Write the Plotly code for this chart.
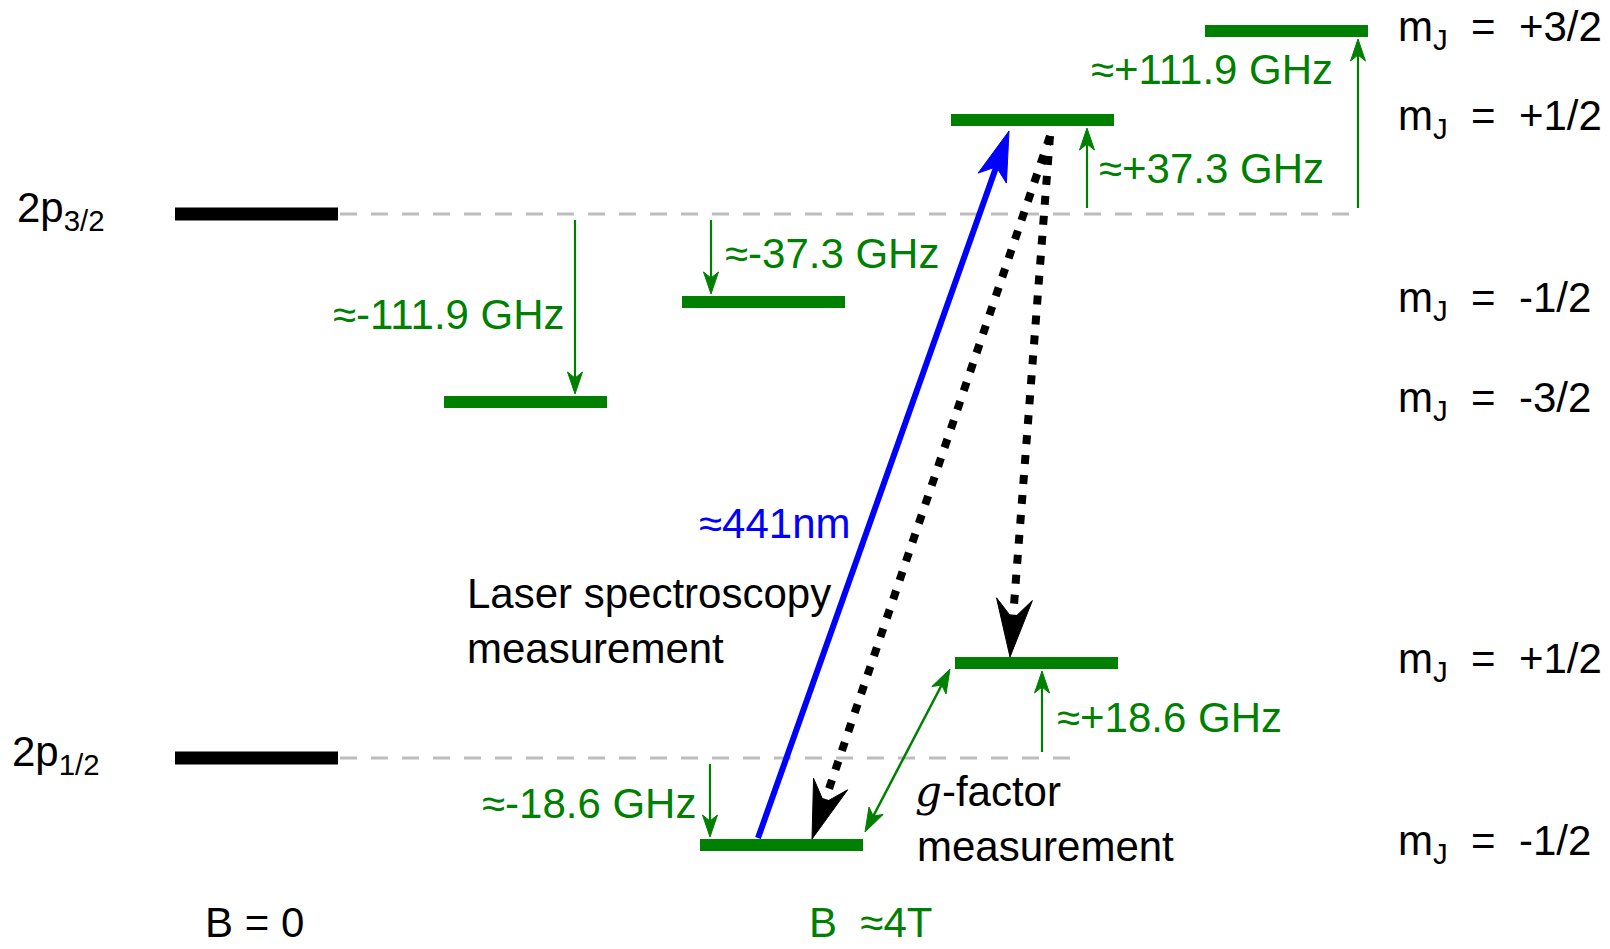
import numpy as np
import plotly.graph_objects as go

# ---------------------------------------------------------------------------
# Level scheme of the 2p fine-structure doublet and its Zeeman splitting.
# Vertical positions are schematic (diagram units, top = 0), not to scale.
# ---------------------------------------------------------------------------
fine_names = ["2p<sub>3/2</sub>", "2p<sub>1/2</sub>"]
fine_energy = [214, 758]

zeeman_parent = [0, 0, 0, 0, 1, 1]
zeeman_mj = ["+3/2", "+1/2", "-1/2", "-3/2", "+1/2", "-1/2"]
zeeman_shift = ["≈+111.9 GHz", "≈+37.3 GHz", "≈-37.3 GHz",
                "≈-111.9 GHz", "≈+18.6 GHz", "≈-18.6 GHz"]
zeeman_energy = [31, 120, 302, 402, 663, 845]

field_labels = ["B = 0", "B  ≈4T"]
laser_label = "≈441nm"

# ---------------------------------------------------------------------------
# Layout of the drawing (pixels on a 1610 x 949 canvas)
# ---------------------------------------------------------------------------
W, H = 1610, 949
GREEN = "#008000"
BLUE = "#0000ff"
GREY = "#bdbdbd"
FONT = "Liberation Sans"
FS = 42
LEVEL_W = 163

fine_x0 = 175
fine_label_x = [15, 10]
dash_end = [1360, 1083]

zeeman_x0 = [1205, 951, 682, 444, 955, 700]
shift_arrow_x = [1358, 1087, 711, 575, 1042, 710]
shift_text = [(1335, 69, "right"), (1097, 168, "left"), (723, 253, "left"),
              (567, 314, "right"), (1055, 717, "left"), (698, 803, "right")]
mj_label_x = 1396

fig = go.Figure()


def seg(x, y, color, width, dash=None):
    fig.add_trace(go.Scatter(x=x, y=y, mode="lines",
                             line=dict(color=color, width=width, dash=dash),
                             hoverinfo="skip", showlegend=False))


def arrowhead(tip, tail, length, width, notch, color):
    t = np.array(tip, float)
    s = np.array(tail, float)
    d = (t - s) / np.linalg.norm(t - s)
    p = np.array([-d[1], d[0]])
    base = t - d * length
    inner = t - d * (length - notch)
    pts = [t, base + p * width / 2, inner, base - p * width / 2, t]
    xs, ys = zip(*pts)
    fig.add_trace(go.Scatter(x=xs, y=ys, mode="lines", fill="toself",
                             fillcolor=color, line=dict(color=color, width=1),
                             hoverinfo="skip", showlegend=False))
    return inner


def arrow(tail, tip, color, width, hl, hw, notch, dash=None, both=False):
    t = np.array(tip, float)
    s = np.array(tail, float)
    d = (t - s) / np.linalg.norm(t - s)
    start = s
    if both:
        start = s + d * (hl - notch)
    end = t - d * (hl - notch)
    seg([start[0], end[0]], [start[1], end[1]], color, width, dash)
    if both:
        arrowhead(tail, tip, hl, hw, notch, color)
    arrowhead(tip, tail, hl, hw, notch, color)


def label(x, y, text, color="black", anchor="left", size=FS):
    fig.add_annotation(x=x, y=y, text=text, showarrow=False, xanchor=anchor,
                       yanchor="middle", xref="x", yref="y",
                       font=dict(family=FONT, size=size, color=color))


# reference lines of the unperturbed levels
for e, x1 in zip(fine_energy, dash_end):
    seg([fine_x0 + LEVEL_W + 2, x1], [e, e], GREY, 3, "17px,14px")

# B = 0 levels
for name, e, lx in zip(fine_names, fine_energy, fine_label_x):
    seg([fine_x0, fine_x0 + LEVEL_W], [e, e], "black", 13)
    label(lx, e - 4, name)

# Zeeman sublevels, their shifts and m_J labels
for par, mj, sh, e, x0, ax, (tx, ty, anc) in zip(
        zeeman_parent, zeeman_mj, zeeman_shift, zeeman_energy,
        zeeman_x0, shift_arrow_x, shift_text):
    seg([x0, x0 + LEVEL_W], [e, e], GREEN, 12)
    base = fine_energy[par]
    sgn = 1 if e > base else -1
    arrow((ax, base + sgn * 6), (ax, e - sgn * 8), GREEN, 2.2, 22, 15, 6)
    label(tx, ty, sh, GREEN, anc)
    label(mj_label_x, e - 2, "m<sub>J</sub>  =  " + mj)

# laser excitation, spontaneous decays and the g-factor microwave transition
lo, hi, mid = zeeman_energy[5], zeeman_energy[1], zeeman_energy[4]
arrow((758, lo - 7), (1009, hi + 11), BLUE, 6, 50, 30, 12)
arrow((1050, hi + 16), (812, lo - 6), "black", 8, 58, 36, 20, dash="9px,11px")
arrow((1050, hi + 16), (1010, mid - 6), "black", 8, 58, 36, 20, dash="9px,11px")
arrow((865, lo - 13), (950, mid + 6), GREEN, 2.5, 24, 16, 6, both=True)

# descriptive text
label(852, 523, laser_label, BLUE, "right")
label(465, 593, "Laser spectroscopy")
label(465, 648, "measurement")
label(913, 791, "<span style=\"font-family:'DejaVu Serif';font-style:italic\">g</span>-factor")
label(915, 846, "measurement")
label(254, 922, field_labels[0], "black", "center")
label(870, 922, field_labels[1], GREEN, "center")

fig.update_layout(
    width=W, height=H, margin=dict(l=0, r=0, t=0, b=0),
    paper_bgcolor="white", plot_bgcolor="white",
    font=dict(family=FONT, size=FS, color="black"),
    xaxis=dict(range=[0, W], visible=False, fixedrange=True),
    yaxis=dict(range=[H, 0], visible=False, fixedrange=True),
    showlegend=False,
)

fig.write_html("out.html")
